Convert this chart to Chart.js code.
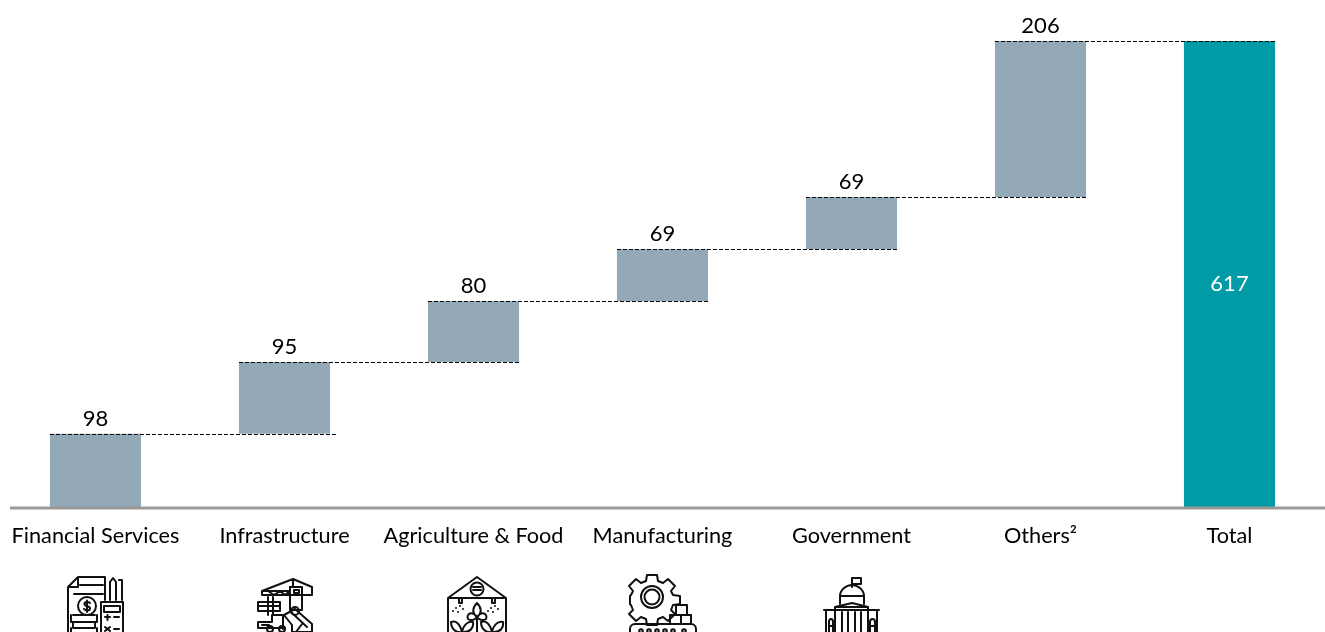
<!DOCTYPE html>
<html>
<head>
<meta charset="utf-8">
<style>
html,body{margin:0;padding:0;background:#fff;overflow:hidden;width:1325px;height:632px}
#wrap{position:absolute;left:0;top:0;width:1325px;height:632px}
#icons{position:absolute;left:0;top:0;pointer-events:none}
#icons *{fill:none;stroke:#111;stroke-width:2;stroke-linejoin:round;stroke-linecap:round}
</style>
</head>
<body>
<div id="wrap"><canvas id="c" width="1325" height="632"></canvas></div>
<svg id="icons" width="1325" height="632" viewBox="0 0 1325 632">
  <g>
    <path d="M78 577H105V600M78 577L68 587V640M68 587H78V577"/>
    <path d="M80 585H103M74 594H103"/>
    <circle cx="87" cy="606" r="9"/>
    <path d="M90 603C88 601 84 602 84.500 604.500C85 607 90 605.500 90 608.500C90 611 86 611 84 609M87 600.500V612"/>
    <path d="M73 615H95M71 615V622H97V615M73 622V628H95V622M71 628V636H97V628"/>
    <path d="M101 602H123V640H101ZM104 606H120V612H104Z"/>
    <path d="M105 617H110M107.500 615V620M114 617H119M105 627L110 631M110 627L105 631M114 629H119"/>
    <path d="M110 600V582L113 578L116 582V600M119 580H122V600"/>
  </g>
  <g>
    <path d="M262 591L293 579L312 587V595H290V587M262 591H290V595H262ZM293 579V587M268 591L274 595L280 591L285 595L290 591"/>
    <path d="M290 587H302V610H290ZM294 590H299V593H294Z"/>
    <path d="M258 602H280V611H258ZM258 606H280M268 597V615M273 597V615"/>
    <path d="M284 615L295 609L312 624V632H292V625ZM291 612L307 627"/>
    <circle cx="295" cy="611" r="4"/>
    <path d="M258 622H272V615H283V629M258 622V628H285M262 625H269"/>
    <circle cx="270" cy="629" r="3"/><circle cx="282" cy="629" r="3"/>
    <path d="M296 632L302 624"/>
  </g>
  <g>
    <path d="M448 598L477 577L506 598V640M448 598V640M448 598H506"/>
    <circle cx="477" cy="589" r="6.500"/>
    <path d="M473 587H481M473 590H481"/>
    <path d="M459 598V603H462V598M492 598V603H495V598"/>
    <path d="M477 603C472 608 472 613 477 617C482 613 482 608 477 603ZM477 617V640M477 617C472 610 466 614 468 619C471 621 475 620 477 617ZM477 617C482 610 488 614 486 619C483 621 479 620 477 617Z"/>
    <path d="M451 622C456 620 460 624 462 632C456 633 451 629 451 622ZM462 632C463 626 467 621 473 622C474 628 470 632 464 632M481 622C486 620 490 624 492 632C486 633 481 629 481 622ZM492 632C493 626 497 621 503 622C504 628 500 632 494 632"/>
    <path d="M456 608V608.100M460 606V606.100M463 609V609.100M453 611V611.100M458 612V612.100M491 608V608.100M495 606V606.100M498 609V609.100M488 611V611.100M493 612V612.100"/>
  </g>
  <g>
    <path d="M647 575H657L658 581L663 583L668 579L675 586L671 591L673 595L680 596V604L673 605L671 610L675 614L668 621L663 617L658 619L657 625H647L646 619L641 617L636 621L629 614L633 610L631 605L630 604V596L631 595L633 591L629 586L636 579L641 583L646 581Z"/>
    <circle cx="652" cy="597" r="11"/>
    <circle cx="652" cy="597" r="7.500"/>
    <path d="M676 605H687V615H676ZM670 615H681V624H670ZM681 615H691V624H681Z"/>
    <rect x="630" y="624" width="66" height="16" rx="5"/>
    <circle cx="641" cy="631" r="1.800"/><circle cx="649" cy="631" r="1.800"/><circle cx="657" cy="631" r="1.800"/><circle cx="665" cy="631" r="1.800"/><circle cx="673" cy="631" r="1.800"/><circle cx="684" cy="631" r="1.800"/>
  </g>
  <g>
    <path d="M852 578H861V584H852ZM852 578V587"/>
    <path d="M840 596C840 590 846 585 852 585C858 585 864 590 864 596ZM840 596H864M840 596V604M864 596V604"/>
    <path d="M835 607L852 603L868 607H835ZM835 607V610M868 607V610"/>
    <path d="M824 610H879M826 610V632M877 610V632"/>
    <path d="M835 610V632M868 610V632M842 612V632M848 612V632M855 612V632M861 612V632"/>
    <path d="M829 632V622C829 618 833 618 833 622V632M829 626H833M870 632V622C870 618 875 618 875 622V632M870 626H875"/>
  </g>
</svg>
<script src="https://cdn.jsdelivr.net/npm/chart.js@4/dist/chart.umd.min.js"></script>
<script>
const categories = ['Financial Services','Infrastructure','Agriculture & Food','Manufacturing','Government','Others\u00B2','Total'];
const values = [98,95,80,69,69,206,617];
const valueLabels = ['98','95','80','69','69','206','617'];

const FONT = 'Lato, "Open Sans", sans-serif';
const GREY = '#94A9B8', TEAL = '#009BA6';

const ranges = [];
let running = 0;
values.forEach((v,i)=>{
  if(i === values.length-1){ ranges.push([0,v]); }
  else { ranges.push([running,running+v]); running += v; }
});

const waterfallDecor = {
  id:'waterfallDecor',
  afterDatasetsDraw(chart){
    const {ctx,scales:{y}} = chart;
    const bars = chart.getDatasetMeta(0).data;
    ctx.save();
    ctx.strokeStyle = '#000';
    ctx.lineWidth = 1;
    ctx.setLineDash([4,2]);
    for(let i=0;i<bars.length-1;i++){
      const b=bars[i], n=bars[i+1];
      const yy = Math.round(y.getPixelForValue(ranges[i][1]))+0.5;
      const extra = i===0 ? 8 : (i===3 ? 2 : 0);
      ctx.beginPath();
      ctx.moveTo(b.x-b.width/2,yy);
      ctx.lineTo(n.x+n.width/2+extra,yy);
      ctx.stroke();
    }
    ctx.setLineDash([]);
    const base = y.getPixelForValue(0);
    ctx.strokeStyle='#999999';
    ctx.lineWidth=3;
    ctx.beginPath();
    ctx.moveTo(10,base);
    ctx.lineTo(1325,base);
    ctx.stroke();
    ctx.font = '22px '+FONT;
    ctx.textAlign='center';
    bars.forEach((b,i)=>{
      if(i===bars.length-1){
        ctx.fillStyle='#fff';
        ctx.textBaseline='alphabetic';
        ctx.fillText(valueLabels[i],b.x,291);
      } else {
        ctx.fillStyle='#000';
        ctx.textBaseline='alphabetic';
        ctx.fillText(valueLabels[i],b.x,y.getPixelForValue(ranges[i][1])-8);
      }
    });
    ctx.restore();
  }
};

new Chart(document.getElementById('c'),{
  type:'bar',
  data:{labels:categories,datasets:[{
    data:ranges,
    backgroundColor:values.map((v,i)=>i===values.length-1?TEAL:GREY),
    borderWidth:0,
    categoryPercentage:1,
    barPercentage:0.482
  }]},
  options:{
    responsive:false,
    animation:false,
    devicePixelRatio:1,
    layout:{padding:{left:1,right:1,top:41,bottom:0}},
    plugins:{legend:{display:false},tooltip:{enabled:false}},
    scales:{
      x:{
        grid:{display:false,drawTicks:false},
        border:{display:false},
        afterFit(s){ s.height = 124; s.paddingLeft = 0; s.paddingRight = 0; },
        ticks:{color:'#000',font:{family:FONT,size:21.7},padding:15,maxRotation:0,autoSkip:false}
      },
      y:{display:false,min:0,max:617}
    }
  },
  plugins:[waterfallDecor]
});
</script>
</body>
</html>
